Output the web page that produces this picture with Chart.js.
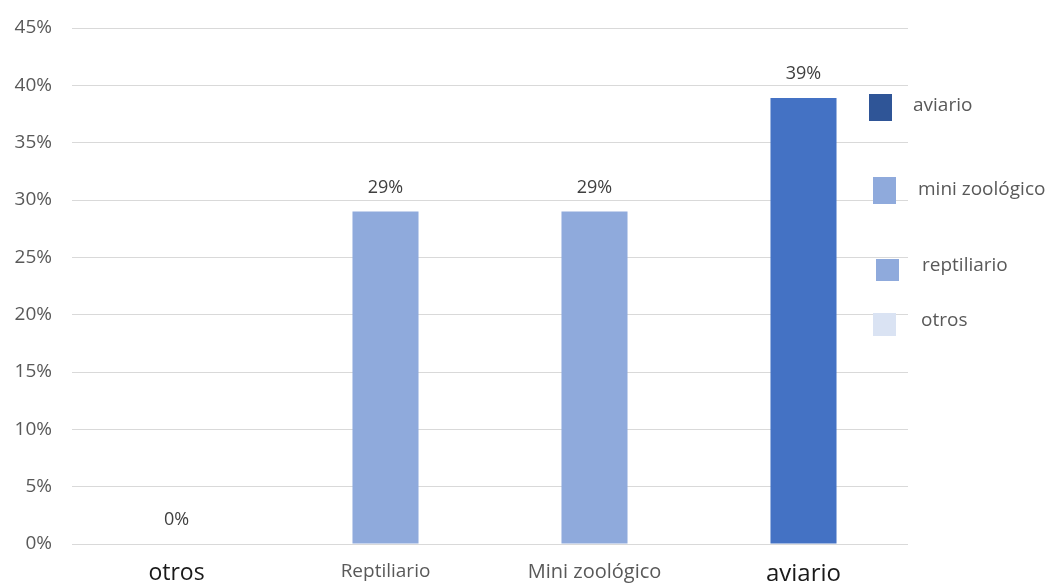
<!DOCTYPE html>
<html>
<head>
<meta charset="utf-8">
<script src="https://cdn.jsdelivr.net/npm/chart.js@4"></script>
<style>
    body { margin: 0; background: #fff; font-family: "Open Sans", sans-serif; }
    #wrap { position: relative; width: 1054px; height: 585px; }
    #legend { position: absolute; left: 0; top: 0; width: 1054px; height: 585px; pointer-events: none; }
    .box { position: absolute; width: 23px; }
    .txt { position: absolute; white-space: nowrap; font-size: 19px; line-height: 1; color: #595959; transform: translateY(-50%); }
</style>
</head>
<body>
<div id="wrap">
    <canvas id="barChart"></canvas>
    <div id="legend"></div>
</div>
<script>
// data
const categories = ['otros', 'Reptiliario', 'Mini zoológico', 'aviario'];
const values = [0, 29, 29, 38.9];
const barColors = ['#8FAADC', '#8FAADC', '#8FAADC', '#4472C4'];
const yTicks = [0, 5, 10, 15, 20, 25, 30, 35, 40, 45];

const legendLabels = ['aviario', 'mini zoológico', 'reptiliario', 'otros'];
const legendColors = ['#2F5597', '#8FAADC', '#8FAADC', '#DAE3F3'];

const FONT = '"Open Sans", sans-serif';

// axis label look varies per category in the original
const xLabelSizes = [23, 19, 20, 24];
const xLabelColors = ['#1a1a1a', '#595959', '#595959', '#1a1a1a'];

// value labels above each bar
const valueLabels = {
    id: 'valueLabels',
    afterDatasetsDraw(chart) {
        const { ctx } = chart;
        const meta = chart.getDatasetMeta(0);
        ctx.save();
        ctx.font = '18px ' + FONT;
        ctx.fillStyle = '#404040';
        ctx.textAlign = 'center';
        ctx.textBaseline = 'middle';
        meta.data.forEach((bar, i) => {
            ctx.fillText(Math.round(values[i]) + '%', bar.x, bar.y - 24);
        });
        ctx.restore();
    }
};

const ctx = document.getElementById('barChart').getContext('2d');
new Chart(ctx, {
    type: 'bar',
    data: {
        labels: categories,
        datasets: [{
            data: values,
            backgroundColor: barColors,
            borderWidth: 0,
            categoryPercentage: 1,
            barPercentage: 0.316,
        }]
    },
    options: {
        responsive: true,
        maintainAspectRatio: false,
        animation: false,
        layout: { padding: { top: 28, right: 146, left: 0, bottom: 0 } },
        plugins: {
            legend: { display: false },
            tooltip: { enabled: false },
        },
        scales: {
            x: {
                grid: { display: false },
                border: { display: false },
                ticks: {
                    padding: 8,
                    color: (c) => xLabelColors[c.index],
                    font: (c) => ({ family: FONT, size: xLabelSizes[c.index] }),
                },
                afterFit(scale) { scale.height = 41; },
            },
            y: {
                min: 0,
                max: 45,
                afterBuildTicks(scale) { scale.ticks = yTicks.map(v => ({ value: v })); },
                grid: { color: '#D9D9D9', drawTicks: false, lineWidth: 1 },
                border: { display: false },
                ticks: {
                    padding: 20,
                    color: '#595959',
                    font: { family: FONT, size: 19 },
                    callback: (v) => v + '%',
                },
                afterFit(scale) {
                    scale.width = 72;
                    // let layout.padding decide where the plot starts
                    scale.paddingTop = 0;
                    scale.paddingBottom = 0;
                },
            }
        }
    },
    plugins: [valueLabels]
});

// legend sits beside the plot at uneven heights, like the source
const legendSpots = [
    { box: [869, 94, 27], txt: [913, 104] },
    { box: [873, 177, 27], txt: [918, 188] },
    { box: [876, 259, 22], txt: [922, 264] },
    { box: [873, 313, 23], txt: [921, 319] },
];
const legendEl = document.getElementById('legend');
legendLabels.forEach((label, i) => {
    const s = legendSpots[i];
    legendEl.insertAdjacentHTML('beforeend',
        `<span class="box" style="left:${s.box[0]}px;top:${s.box[1]}px;height:${s.box[2]}px;background:${legendColors[i]}"></span>` +
        `<span class="txt" style="left:${s.txt[0]}px;top:${s.txt[1]}px">${label}</span>`);
});
</script>
</body>
</html>
